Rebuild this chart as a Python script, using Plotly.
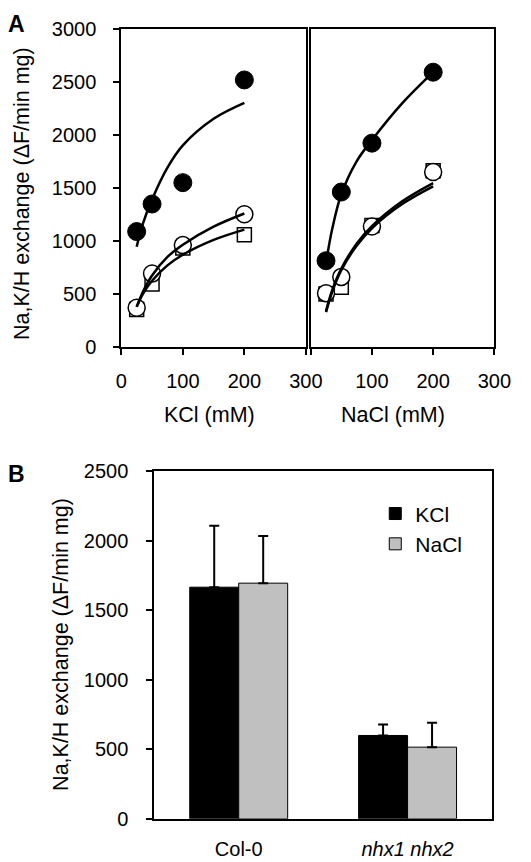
import plotly.graph_objects as go

# ---------------- data (panel A) ----------------
conc = [25, 50, 100, 200]
kcl_filled = [1089, 1348, 1549, 2516]
kcl_open = [372, 693, 961, 1251]
kcl_square = [355, 595, 935, 1058]
nacl_filled = [814, 1461, 1921, 2589]
nacl_open = [509, 662, 1137, 1650]
nacl_square = [500, 564, 1145, 1660]

# fitted curves
fit_x = [25, 35, 50, 75, 100, 150, 200]
kcl_fit_filled = [945, 1160, 1390, 1690, 1900, 2150, 2300]
kcl_fit_open = [380, 520, 675, 850, 965, 1135, 1259]
kcl_fit_square = [380, 500, 625, 770, 870, 1010, 1107]
nacl_fit_filled = [790, 1110, 1440, 1750, 1950, 2300, 2590]
nacl_fit_open = [340, 535, 740, 975, 1140, 1375, 1545]
nacl_fit_square = [330, 520, 725, 955, 1120, 1350, 1515]

x_ticks = [0, 100, 200, 300]

# ---------------- data (panel B) ----------------
genotypes = ["Col-0", "<i>nhx1 nhx2</i>"]
kcl_bar = [1667, 600]
kcl_err_top = [2109, 679]
nacl_bar = [1696, 516]
nacl_err_top = [2035, 691]

FONT = "Arial, Liberation Sans, sans-serif"
W, H = 531, 862


def px_x(p):
    return p / W


def px_y(p):
    return 1 - p / H


fig = go.Figure()


def add_panel(xa, ya, filled, opened, square, fx, ff, fo, fs):
    fig.add_trace(go.Scatter(x=conc, y=square, mode="markers", xaxis=xa, yaxis=ya,
                             marker=dict(symbol="square", size=14, color="white",
                                         line=dict(color="black", width=1.5)),
                             showlegend=False))
    fig.add_trace(go.Scatter(x=conc, y=opened, mode="markers", xaxis=xa, yaxis=ya,
                             marker=dict(symbol="circle", size=17, color="white",
                                         line=dict(color="black", width=1.5)),
                             showlegend=False))
    fig.add_trace(go.Scatter(x=conc, y=filled, mode="markers", xaxis=xa, yaxis=ya,
                             marker=dict(symbol="circle", size=18, color="black",
                                         line=dict(color="black", width=1)),
                             showlegend=False))
    for fy in (ff, fo, fs):
        fig.add_trace(go.Scatter(x=fx, y=fy, mode="lines", xaxis=xa, yaxis=ya,
                                 line=dict(color="black", width=2.5, shape="spline"),
                                 showlegend=False))


add_panel("x", "y", kcl_filled, kcl_open, kcl_square, fit_x,
          kcl_fit_filled, kcl_fit_open, kcl_fit_square)
add_panel("x2", "y2", nacl_filled, nacl_open, nacl_square, fit_x,
          nacl_fit_filled, nacl_fit_open, nacl_fit_square)

# panel B bars
fig.add_trace(go.Bar(x=genotypes, y=kcl_bar, name="KCl", xaxis="x3", yaxis="y3",
                     marker=dict(color="black", line=dict(color="black", width=1)),
                     error_y=dict(type="data", symmetric=False,
                                  array=[t - v for t, v in zip(kcl_err_top, kcl_bar)],
                                  arrayminus=[0, 0], color="black", thickness=2, width=5)))
fig.add_trace(go.Bar(x=genotypes, y=nacl_bar, name="NaCl", xaxis="x3", yaxis="y3",
                     marker=dict(color="#c0c0c0", line=dict(color="black", width=1)),
                     error_y=dict(type="data", symmetric=False,
                                  array=[t - v for t, v in zip(nacl_err_top, nacl_bar)],
                                  arrayminus=[0, 0], color="black", thickness=2, width=5)))

axis_common = dict(showline=True, linecolor="black", linewidth=2, mirror=True,
                   showgrid=False, zeroline=False,
                   tickfont=dict(family=FONT, size=20, color="black"),
                   tickcolor="black", tickwidth=2)

yA_dom = [px_y(345), px_y(18)]
fig.update_layout(
    width=W, height=H,
    margin=dict(l=0, r=0, t=0, b=0),
    paper_bgcolor="white", plot_bgcolor="white",
    font=dict(family=FONT, color="black"),
    barmode="group", bargap=0.42, bargroupgap=0,
    xaxis=dict(domain=[px_x(120.5), px_x(313.5)], range=[0, 300], anchor="y",
               tickvals=x_ticks, ticks="outside", ticklen=6,
               ticklabelstandoff=9, **axis_common),
    yaxis=dict(domain=yA_dom, range=[0, 3000], anchor="x", dtick=500,
               ticks="outside", ticklen=6, ticklabelstandoff=13, **axis_common),
    xaxis2=dict(domain=[px_x(318.5), px_x(510.5)], range=[0, 300], anchor="y2",
                tickvals=x_ticks, ticktext=["", "100", "200", "300"],
                ticks="outside", ticklen=6, ticklabelstandoff=9, **axis_common),
    yaxis2=dict(domain=yA_dom, range=[0, 3000], anchor="x2", showticklabels=False,
                ticks="", **axis_common),
    xaxis3=dict(domain=[px_x(155), px_x(508)], range=[-0.5, 1.5], anchor="y3",
                type="category", ticks="", ticklabelstandoff=11, **axis_common),
    yaxis3=dict(domain=[px_y(829), px_y(472.5)], range=[0, 2500], anchor="x3",
                dtick=500, ticks="outside", ticklen=6, ticklabelstandoff=14,
                **axis_common),
    legend=dict(x=px_x(386), y=px_y(495), xanchor="left", yanchor="top",
                font=dict(family=FONT, size=21, color="black"),
                bgcolor="rgba(0,0,0,0)", borderwidth=0, tracegroupgap=0),
)

ann = [
    dict(text="<b>A</b>", x=px_x(11), y=px_y(13.5), size=23, angle=0),
    dict(text="<b>B</b>", x=px_x(11), y=px_y(475), size=23, angle=0),
    dict(text="KCl (mM)", x=px_x(213), y=px_y(415), size=21.5, angle=0),
    dict(text="NaCl (mM)", x=px_x(404), y=px_y(415), size=21.5, angle=0),
    dict(text="Na,K/H exchange (\u0394F/min mg)", x=px_x(16), y=px_y(187.5), size=21.5, angle=-90),
    dict(text="Na,K/H exchange (\u0394F/min mg)", x=px_x(58), y=px_y(650), size=21.5, angle=-90),
]
for a in ann:
    fig.add_annotation(text=a["text"], x=a["x"], y=a["y"], xref="paper", yref="paper",
                       xanchor="center", yanchor="middle", showarrow=False,
                       textangle=a["angle"],
                       font=dict(family=FONT, size=a["size"], color="black"))

fig.write_html("out.html", config={"displayModeBar": False},
               post_script="document.body.style.margin='0px';document.body.style.overflow='hidden';")
